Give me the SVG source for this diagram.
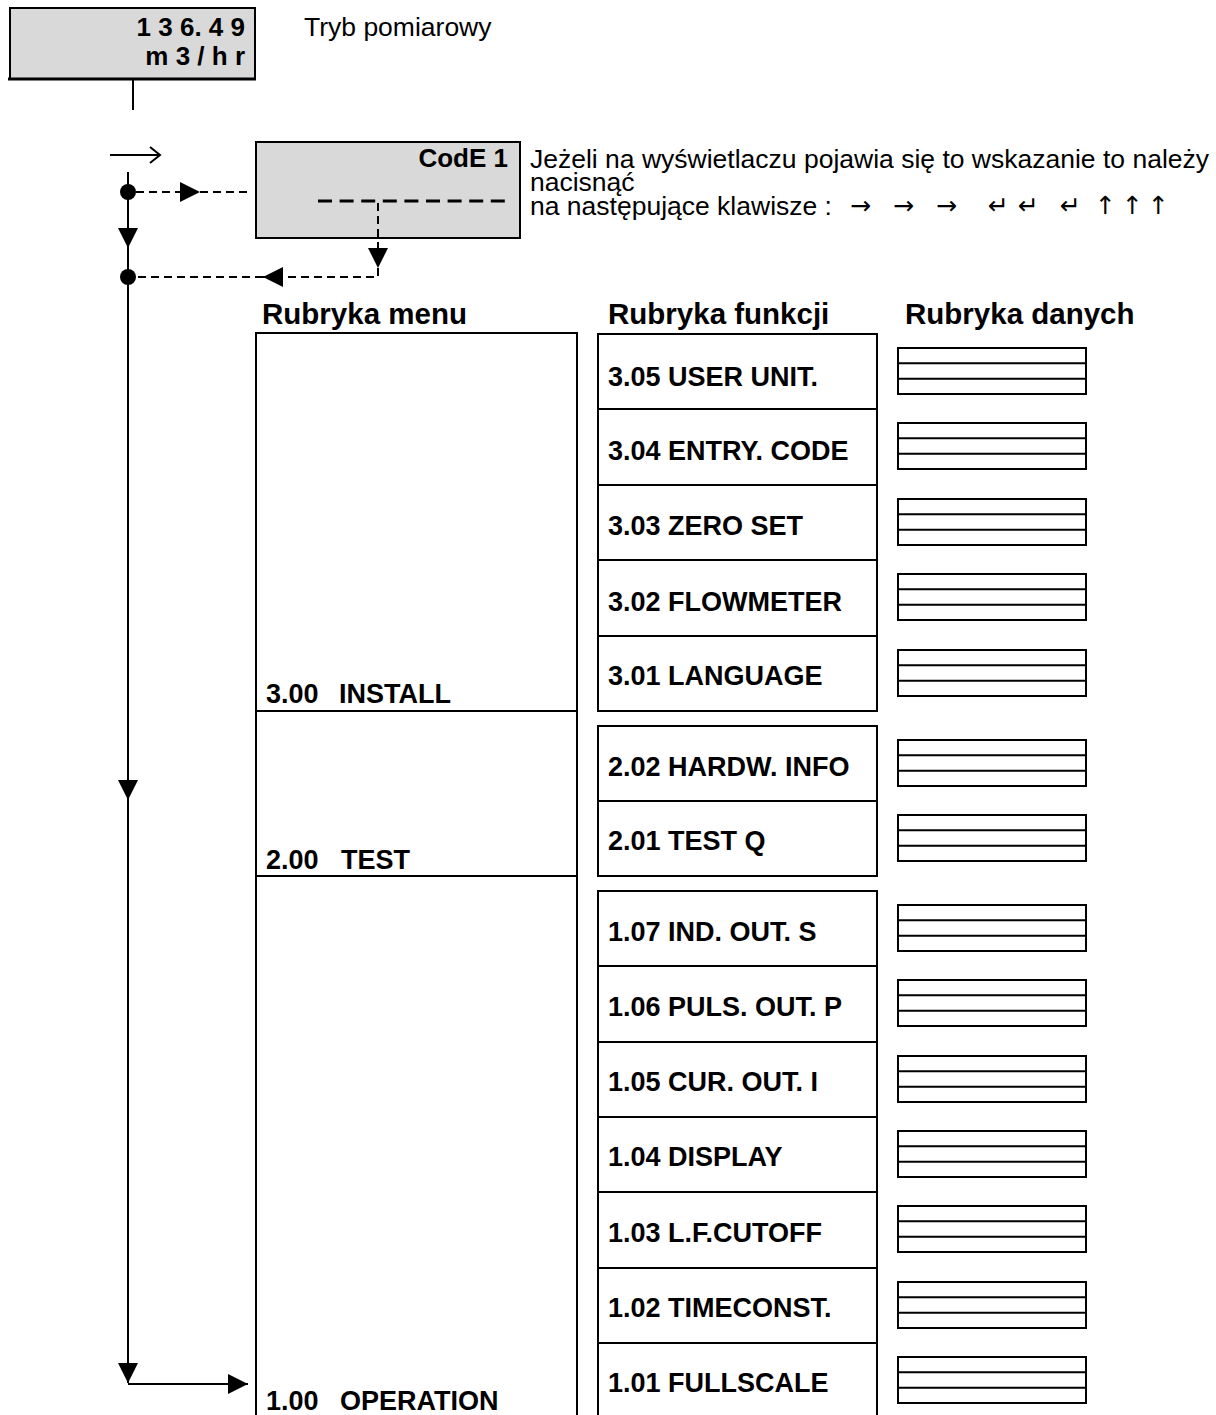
<svg xmlns="http://www.w3.org/2000/svg" width="1216" height="1415" viewBox="0 0 1216 1415">
<style>
text{font-family:"Liberation Sans","DejaVu Sans",sans-serif;fill:#000}
.b{font-weight:bold;font-size:27px}
.t{font-weight:bold;font-size:26px}
.h{font-weight:bold;font-size:29.5px}
.r{font-size:26.5px}
.k{font-family:"DejaVu Sans",sans-serif;font-size:25px}
.box{fill:#fff;stroke:#000;stroke-width:2}
.disp{fill:#d9d9d9;stroke:#000;stroke-width:2}
.data{fill:#fff;stroke:#000;stroke-width:2}
.ln{fill:none;stroke:#000;stroke-width:2}
.ds{fill:none;stroke:#000;stroke-width:2;stroke-dasharray:8 5}
</style>
<defs>
<marker id="tri" viewBox="0 0 10 10" refX="10" refY="5" markerUnits="userSpaceOnUse" markerWidth="20" markerHeight="20" orient="auto">
<path d="M0,0 L10,5 L0,10 z" fill="#000" stroke="none"/>
</marker>
<g id="dbox">
<rect class="data" x="0" y="0" width="188" height="46"/>
<line class="ln" x1="0" y1="15.3" x2="188" y2="15.3"/>
<line class="ln" x1="0" y1="30.7" x2="188" y2="30.7"/>
</g>
</defs>

<g id="display-main">
<rect class="disp" x="10" y="8" width="245" height="71"/>
<line x1="8" y1="79" x2="256" y2="79" stroke="#000" stroke-width="3"/>
<text class="t" x="245" y="36" text-anchor="end">1 3 6. 4 9</text>
<text class="t" x="245" y="65" text-anchor="end">m 3 / h r</text>
</g>
<g id="label-tryb"><text class="r" x="304" y="36">Tryb pomiarowy</text></g>

<g id="display-code">
<rect class="disp" x="256" y="142" width="264" height="96"/>
<text class="t" x="508" y="167" text-anchor="end">CodE 1</text>
<line x1="318" y1="201" x2="512" y2="201" stroke="#000" stroke-width="3" stroke-dasharray="14 7.6"/>
</g>
<g id="note">
<text class="r" x="530" y="168">Jeżeli na wyświetlaczu pojawia się to wskazanie to należy</text>
<text class="r" x="530" y="191">nacisnąć</text>
<text class="r" x="530" y="215">na następujące klawisze :</text>
<text class="k" x="850" y="214">→</text>
<text class="k" x="893" y="214">→</text>
<text class="k" x="936" y="214">→</text>
<text class="k" x="988" y="214">↵</text>
<text class="k" x="1018" y="214">↵</text>
<text class="k" x="1060" y="214">↵</text>
<text class="k" x="1095" y="214">↑</text>
<text class="k" x="1122" y="214">↑</text>
<text class="k" x="1148" y="214">↑</text>
</g>

<g id="connectors">
<line class="ln" x1="133" y1="79" x2="133" y2="110"/>
<path class="ln" d="M110,155 H159 M150,147 L160,155 L150,163"/>
<path class="ln" d="M128,172 V192"/>
<path class="ln" d="M128,192 V248" marker-end="url(#tri)"/>
<path class="ln" d="M128,248 V277"/>
<path class="ln" d="M128,277 V800" marker-end="url(#tri)"/>
<path class="ln" d="M128,800 V1383" marker-end="url(#tri)"/>
<path class="ln" d="M128,1384 H248" marker-end="url(#tri)"/>
<path class="ds" d="M136,192 H200" marker-end="url(#tri)"/>
<path class="ds" d="M200,192 H247"/>
<path class="ds" d="M378,203 V268" marker-end="url(#tri)"/>
<path class="ds" d="M378,268 V277 H283"/>
<path class="ds" d="M283,277 H263" marker-end="url(#tri)"/>
<path class="ds" d="M263,277 H136"/>
<circle cx="128" cy="192" r="8" fill="#000"/>
<circle cx="128" cy="277" r="8" fill="#000"/>
</g>

<g id="headers">
<text class="h" x="262" y="324">Rubryka menu</text>
<text class="h" x="608" y="324">Rubryka funkcji</text>
<text class="h" x="905" y="324">Rubryka danych</text>
</g>

<g id="menu-3-00"><rect class="box" x="256" y="333" width="321" height="378"/><text class="b" x="266" y="703">3.00</text><text class="b" x="339" y="703">INSTALL</text></g>
<g id="menu-2-00"><rect class="box" x="256" y="711" width="321" height="165"/><text class="b" x="266" y="869">2.00</text><text class="b" x="341" y="869">TEST</text></g>
<g id="menu-1-00"><rect class="box" x="256" y="876" width="321" height="560"/><text class="b" x="266" y="1410">1.00</text><text class="b" x="340" y="1410">OPERATION</text></g>

<g id="f-3-05"><rect class="box" x="598" y="334" width="279" height="75"/><text class="b" x="608" y="386">3.05 USER UNIT.</text></g>
<g id="f-3-04"><rect class="box" x="598" y="409" width="279" height="76"/><text class="b" x="608" y="460">3.04 ENTRY. CODE</text></g>
<g id="f-3-03"><rect class="box" x="598" y="485" width="279" height="75"/><text class="b" x="608" y="535">3.03 ZERO SET</text></g>
<g id="f-3-02"><rect class="box" x="598" y="560" width="279" height="76"/><text class="b" x="608" y="611">3.02 FLOWMETER</text></g>
<g id="f-3-01"><rect class="box" x="598" y="636" width="279" height="75"/><text class="b" x="608" y="685">3.01 LANGUAGE</text></g>
<g id="f-2-02"><rect class="box" x="598" y="726" width="279" height="75"/><text class="b" x="608" y="776">2.02 HARDW. INFO</text></g>
<g id="f-2-01"><rect class="box" x="598" y="801" width="279" height="75"/><text class="b" x="608" y="850">2.01 TEST Q</text></g>
<g id="f-1-07"><rect class="box" x="598" y="891" width="279" height="75"/><text class="b" x="608" y="941">1.07 IND. OUT. S</text></g>
<g id="f-1-06"><rect class="box" x="598" y="966" width="279" height="76"/><text class="b" x="608" y="1016">1.06 PULS. OUT. P</text></g>
<g id="f-1-05"><rect class="box" x="598" y="1042" width="279" height="75"/><text class="b" x="608" y="1091">1.05 CUR. OUT. I</text></g>
<g id="f-1-04"><rect class="box" x="598" y="1117" width="279" height="75"/><text class="b" x="608" y="1166">1.04 DISPLAY</text></g>
<g id="f-1-03"><rect class="box" x="598" y="1192" width="279" height="76"/><text class="b" x="608" y="1242">1.03 L.F.CUTOFF</text></g>
<g id="f-1-02"><rect class="box" x="598" y="1268" width="279" height="75"/><text class="b" x="608" y="1317">1.02 TIMECONST.</text></g>
<g id="f-1-01"><rect class="box" x="598" y="1343" width="279" height="90"/><text class="b" x="608" y="1392">1.01 FULLSCALE</text></g>

<g id="d-3-05"><use href="#dbox" x="898" y="348"/></g>
<g id="d-3-04"><use href="#dbox" x="898" y="423"/></g>
<g id="d-3-03"><use href="#dbox" x="898" y="499"/></g>
<g id="d-3-02"><use href="#dbox" x="898" y="574"/></g>
<g id="d-3-01"><use href="#dbox" x="898" y="650"/></g>
<g id="d-2-02"><use href="#dbox" x="898" y="740"/></g>
<g id="d-2-01"><use href="#dbox" x="898" y="815"/></g>
<g id="d-1-07"><use href="#dbox" x="898" y="905"/></g>
<g id="d-1-06"><use href="#dbox" x="898" y="980"/></g>
<g id="d-1-05"><use href="#dbox" x="898" y="1056"/></g>
<g id="d-1-04"><use href="#dbox" x="898" y="1131"/></g>
<g id="d-1-03"><use href="#dbox" x="898" y="1206"/></g>
<g id="d-1-02"><use href="#dbox" x="898" y="1282"/></g>
<g id="d-1-01"><use href="#dbox" x="898" y="1357"/></g>
</svg>
